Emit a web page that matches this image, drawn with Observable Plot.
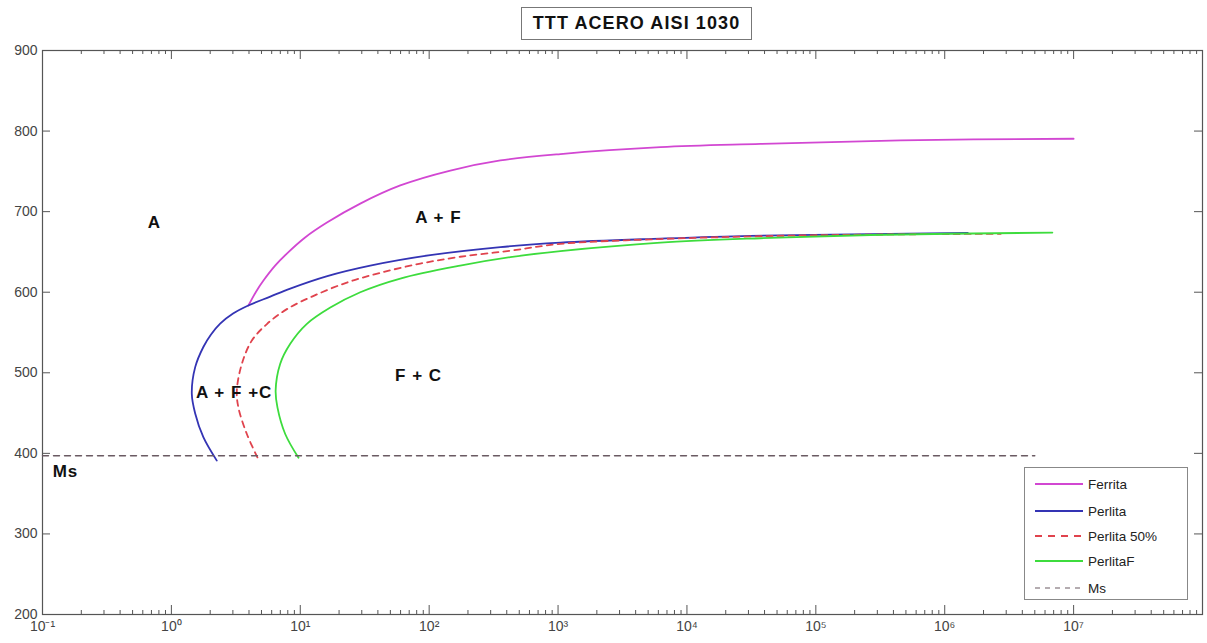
<!DOCTYPE html>
<html>
<head>
<meta charset="utf-8">
<script src="https://cdn.jsdelivr.net/npm/d3@7"></script>
<script src="https://cdn.jsdelivr.net/npm/@observablehq/plot@0.6"></script>
<style>
  html, body { margin: 0; padding: 0; background: #fff; }
  #wrap { position: relative; width: 1207px; height: 643px; font-family: "Liberation Sans", Arial, sans-serif; }
  #title { position: absolute; left: 521px; top: 7px; width: 229px; height: 31px; border: 1.5px solid #777;
           font-weight: bold; font-size: 18px; letter-spacing: 1.1px; line-height: 31px; text-align: center; color: #111; background: #fff; }
  #legend { position: absolute; left: 1024px; top: 467px; width: 162px; height: 131px; border: 1.5px solid #888; background: #fff; }
  .row { position: absolute; left: 10px; height: 16px; display: flex; align-items: center; font-size: 13.5px; color: #222; }
  .row svg { margin-right: 5px; }
  .region text { letter-spacing: 1px; }
</style>
</head>
<body>
<div id="wrap">
  <div id="chart"></div>
  <div id="title">TTT ACERO AISI 1030</div>
  <div id="legend"></div>
</div>
<script>
// ---- data (time in s, temperature in °C) ----
const ferritaTime = [3.96, 4.55, 5.18, 6.38, 7.87, 10.9, 16.1, 29.2, 59.7, 146, 357, 1043, 6240, 37200, 455000, 10000000];
const ferritaTemp = [583.5, 601, 614.5, 633, 648, 668, 686.5, 710, 732.5, 751, 763.5, 771.5, 780, 784, 788.5, 790.5];

const perlitaTime = [2.25, 1.77, 1.53, 1.44, 1.53, 1.77, 2.03, 2.39, 3.01, 3.95, 5.85, 8.36, 16.2, 34.9, 102, 357, 1043, 6240, 31200, 267000, 1510000];
const perlitaTemp = [391, 420, 449.5, 474, 507, 532, 547.5, 561, 573.5, 583.5, 594.5, 604.5, 620, 633, 646, 656, 661.5, 666.5, 670, 672, 673.5];

const perlita50Time = [4.65, 3.85, 3.31, 3.22, 3.52, 4.21, 5.51, 7.87, 12.7, 23.0, 41.7, 85.3, 174, 426, 1043, 6240, 37200, 266000, 2720000];
const perlita50Temp = [395, 424, 457, 478, 511, 540, 560.5, 579, 595.5, 612, 624, 635.5, 644, 651.5, 660, 666, 669.5, 671.5, 672.5];

const perlitaFTime = [9.69, 7.64, 6.65, 6.44, 6.98, 8.36, 11.2, 17.1, 29.2, 59.7, 174, 426, 1043, 6240, 37200, 266000, 6840000];
const perlitaFTemp = [394.5, 424, 457, 478, 511, 536, 560.5, 581, 600, 617, 633, 643.5, 651, 661.5, 667, 671, 674];

const msTime = [0.1, 5000000];
const msTemp = [397, 397];

const regionLabels = ["A", "A + F", "F + C", "A + F +C"];
const regionTime = [0.738, 118, 82.8, 3.07];
const regionTemp = [686, 693, 497, 476];
const msLabel = "Ms";
const msLabelTime = 0.12;
const msLabelTemp = 378;

const xTickValues = [0.1, 1, 10, 100, 1000, 10000, 100000, 1000000, 10000000];
const xTickLabels = ["10⁻¹", "10⁰", "10¹", "10²", "10³", "10⁴", "10⁵", "10⁶", "10⁷"];
const yTickValues = [200, 300, 400, 500, 600, 700, 800, 900];

const seriesNames = ["Ferrita", "Perlita", "Perlita 50%", "PerlitaF", "Ms"];
const seriesColors = ["#d247d2", "#3434b4", "#e0434d", "#3ddc3d", "#6a5a62"];
const seriesDash = [null, null, "6,5", null, "6,5"];

// ---- build tables ----
const rows = (t, v) => t.map((d, i) => ({t: d, T: v[i]}));
const series = [
  rows(ferritaTime, ferritaTemp),
  rows(perlitaTime, perlitaTemp),
  rows(perlita50Time, perlita50Temp),
  rows(perlitaFTime, perlitaFTemp),
  rows(msTime, msTemp)
];
const regions = regionLabels.map((l, i) => ({l, t: regionTime[i], T: regionTemp[i]}));

const W = 1207, H = 643, mL = 42, mR = 5, mT = 50, mB = 29;
const plotW = W - mL - mR, plotH = H - mT - mB;
const allMinor = d3.scaleLog().domain([0.1, 1e8]).ticks().filter(d => d > 0.1 && d < 1e8);
const majorX = xTickValues.filter(d => d > 0.1);
const minorX = allMinor.filter(d => !majorX.some(m => Math.abs(m - d) / m < 1e-9));
const yInner = yTickValues.filter(d => d > 200 && d < 900);

const lineMarks = series.map((s, i) => Plot.line(s, {
  x: "t", y: "T", stroke: seriesColors[i], strokeWidth: i === 4 ? 1.4 : 1.8,
  strokeDasharray: seriesDash[i], curve: i === 4 ? "linear" : "catmull-rom"
}));

const chart = Plot.plot({
  width: W, height: H,
  marginLeft: mL, marginRight: mR, marginTop: mT, marginBottom: mB,
  style: {fontFamily: "Liberation Sans, Arial, sans-serif", fontSize: "14px", color: "#333", background: "#fff"},
  x: {type: "log", domain: [0.1, 1e8], label: null},
  y: {domain: [200, 900], label: null},
  marks: [
    Plot.frame({stroke: "#555", strokeWidth: 1.2}),
    // inward minor ticks bottom / top
    Plot.ruleX(minorX, {x: d => d, insetTop: plotH - 4, stroke: "#555"}),
    Plot.ruleX(minorX, {x: d => d, insetBottom: plotH - 4, stroke: "#555"}),
    // inward major ticks bottom / top
    Plot.ruleX(majorX, {x: d => d, insetTop: plotH - 9, stroke: "#555"}),
    Plot.ruleX(majorX, {x: d => d, insetBottom: plotH - 9, stroke: "#555"}),
    // inward y ticks left / right
    Plot.ruleY(yInner, {y: d => d, insetRight: plotW - 8, stroke: "#555"}),
    Plot.ruleY(yInner, {y: d => d, insetLeft: plotW - 8, stroke: "#555"}),
    Plot.axisX(xTickValues, {tickSize: 0, tickPadding: 7, label: null, tickFormat: d => xTickLabels[xTickValues.indexOf(d)], fill: "#444"}),
    Plot.axisY(yTickValues, {tickSize: 0, tickPadding: 5, label: null, fill: "#444"}),
    ...lineMarks,
    Plot.text(regions, {x: "t", y: "T", text: "l", fontWeight: "bold", fontSize: 17, fill: "#111", className: "region"}),
    Plot.text([msLabel], {x: () => msLabelTime, y: () => msLabelTemp, text: d => d, textAnchor: "start", fontWeight: "bold", fontSize: 17, fill: "#111", className: "region"})
  ]
});
document.getElementById("chart").appendChild(chart);

// ---- legend ----
const legend = document.getElementById("legend");
const rowTops = [8, 35, 60, 85, 112];
seriesNames.forEach((name, i) => {
  const r = document.createElement("div");
  r.className = "row";
  r.style.top = rowTops[i] + "px";
  const dash = seriesDash[i] ? `stroke-dasharray="${i === 4 ? "5,5" : "7,6"}"` : "";
  r.innerHTML = `<svg width="48" height="10"><line x1="0" x2="48" y1="5" y2="5" stroke="${seriesColors[i]}" stroke-width="${i === 4 ? 1.2 : 1.8}" ${dash}/></svg><span>${name}</span>`;
  legend.appendChild(r);
});
</script>
</body>
</html>
